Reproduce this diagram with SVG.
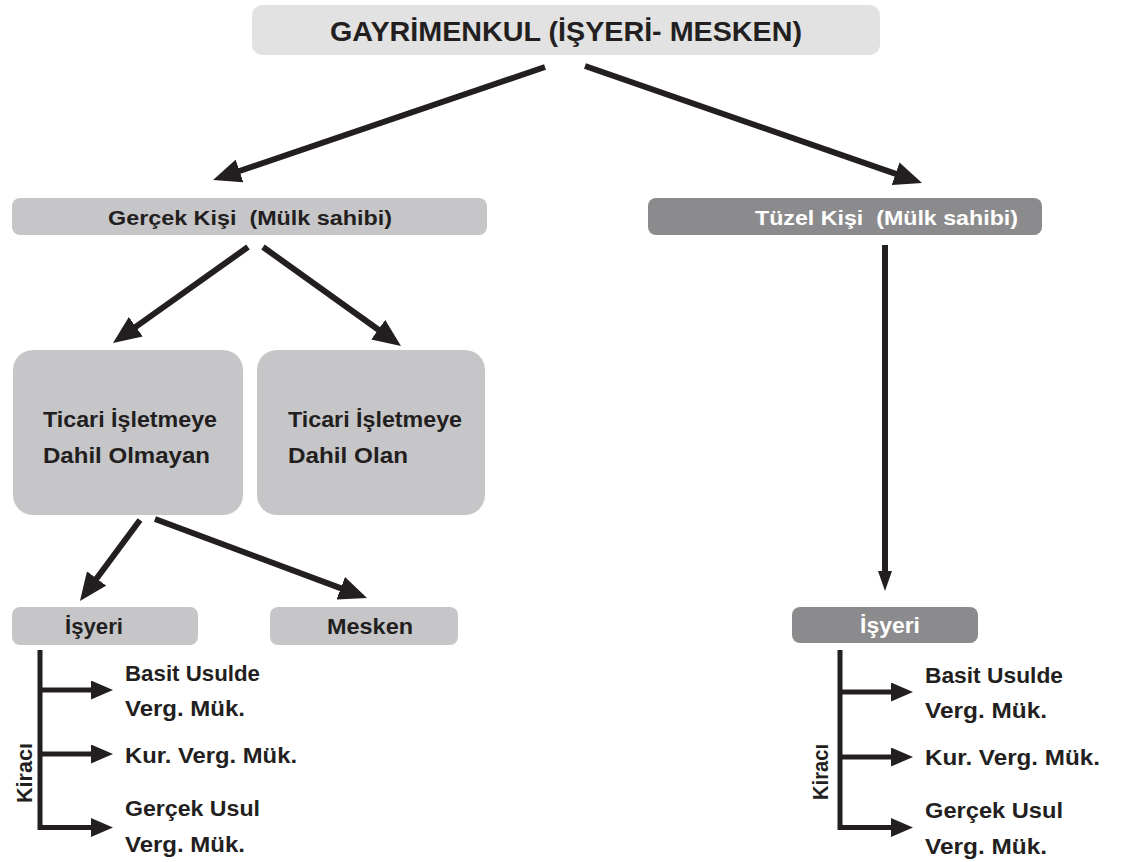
<svg xmlns="http://www.w3.org/2000/svg" width="1123" height="862" viewBox="0 0 1123 862">
  <style>
    text { font-family: "Liberation Sans", Arial, sans-serif; font-weight: bold; fill: #231f20; }
    .t28 { font-size: 28px; }
    .t22 { font-size: 22px; }
    .t21 { font-size: 21px; }
    .w { fill: #ffffff; }
    .light { fill: #e2e2e3; }
    .mid { fill: #c6c6c9; }
    .dark { fill: #8b8b8d; }
    .conn { stroke: #231f20; stroke-width: 6; fill: none; }
    .thin { stroke: #231f20; stroke-width: 5; fill: none; }
  </style>
  <defs>
    <marker id="ah" viewBox="0 0 28 24" refX="14" refY="12" markerWidth="28" markerHeight="24" markerUnits="userSpaceOnUse" orient="auto">
      <path d="M0,0 L28,12 L0,24 z" fill="#231f20"/>
    </marker>
    <marker id="ahs" viewBox="0 0 20 14" refX="6" refY="7" markerWidth="20" markerHeight="14" markerUnits="userSpaceOnUse" orient="auto">
      <path d="M0,0 L20,7 L0,14 z" fill="#231f20"/>
    </marker>
    <marker id="ahh" viewBox="0 0 22 19" refX="8" refY="9.5" markerWidth="22" markerHeight="19" markerUnits="userSpaceOnUse" orient="auto">
      <path d="M0,0 L22,9.5 L0,19 z" fill="#231f20"/>
    </marker>
  </defs>
  <rect width="1123" height="862" fill="#ffffff"/>

  <g id="connectors">
    <line class="conn" x1="545" y1="67" x2="226.3" y2="175.5" marker-end="url(#ah)"/>
    <line class="conn" x1="585" y1="66" x2="908.8" y2="178.4" marker-end="url(#ah)"/>
    <line class="conn" x1="248" y1="247" x2="124.4" y2="334.9" marker-end="url(#ah)"/>
    <line class="conn" x1="263" y1="247" x2="389.6" y2="337.8" marker-end="url(#ah)"/>
    <line class="conn" x1="140" y1="520" x2="88.3" y2="589.7" marker-end="url(#ah)"/>
    <line class="conn" x1="155" y1="519" x2="353.9" y2="593.1" marker-end="url(#ah)"/>
    <line class="conn" x1="885" y1="245" x2="885" y2="577" marker-end="url(#ahs)"/>
    <!-- left Kiracı bracket -->
    <line class="thin" x1="40" y1="650" x2="40" y2="830"/>
    <line class="thin" x1="38" y1="690" x2="99" y2="690" marker-end="url(#ahh)"/>
    <line class="thin" x1="38" y1="754" x2="99" y2="754" marker-end="url(#ahh)"/>
    <line class="thin" x1="38" y1="827.5" x2="99" y2="827.5" marker-end="url(#ahh)"/>
    <!-- right Kiracı bracket -->
    <line class="thin" x1="840" y1="650" x2="840" y2="830"/>
    <line class="thin" x1="838" y1="692" x2="899" y2="692" marker-end="url(#ahh)"/>
    <line class="thin" x1="838" y1="757" x2="899" y2="757" marker-end="url(#ahh)"/>
    <line class="thin" x1="838" y1="827.5" x2="899" y2="827.5" marker-end="url(#ahh)"/>
  </g>

  <g id="gayrimenkul">
    <rect class="light" x="252" y="5" width="628" height="50" rx="10"/>
    <text class="t28" x="330" y="41" textLength="472" lengthAdjust="spacingAndGlyphs">GAYRİMENKUL (İŞYERİ- MESKEN)</text>
  </g>

  <g id="gercek-kisi">
    <rect class="mid" x="12" y="198" width="475" height="37" rx="8"/>
    <text class="t21" x="108" y="225" textLength="284" lengthAdjust="spacingAndGlyphs">Gerçek Kişi&#160; (Mülk sahibi)</text>
  </g>

  <g id="tuzel-kisi">
    <rect class="dark" x="648" y="198" width="394" height="37" rx="8"/>
    <text class="t21 w" x="755" y="225" textLength="263" lengthAdjust="spacingAndGlyphs">Tüzel Kişi&#160; (Mülk sahibi)</text>
  </g>

  <g id="ticari-olmayan">
    <rect class="mid" x="13" y="350" width="230" height="165" rx="20"/>
    <text class="t22" x="43" y="427" textLength="174" lengthAdjust="spacingAndGlyphs">Ticari İşletmeye</text>
    <text class="t22" x="43" y="463" textLength="167" lengthAdjust="spacingAndGlyphs">Dahil Olmayan</text>
  </g>

  <g id="ticari-olan">
    <rect class="mid" x="257" y="350" width="228" height="165" rx="20"/>
    <text class="t22" x="288" y="427" textLength="174" lengthAdjust="spacingAndGlyphs">Ticari İşletmeye</text>
    <text class="t22" x="288" y="463" textLength="120" lengthAdjust="spacingAndGlyphs">Dahil Olan</text>
  </g>

  <g id="isyeri-left">
    <rect class="mid" x="12" y="607" width="186" height="38" rx="8"/>
    <text class="t22" x="65" y="634" textLength="58" lengthAdjust="spacingAndGlyphs">İşyeri</text>
  </g>

  <g id="mesken">
    <rect class="mid" x="270" y="607" width="188" height="38" rx="8"/>
    <text class="t22" x="327" y="634" textLength="86" lengthAdjust="spacingAndGlyphs">Mesken</text>
  </g>

  <g id="isyeri-right">
    <rect class="dark" x="792" y="607" width="186" height="36" rx="8"/>
    <text class="t22 w" x="860" y="633" textLength="60" lengthAdjust="spacingAndGlyphs">İşyeri</text>
  </g>

  <g id="kiraci-left">
    <text class="t22" transform="translate(32,773) rotate(-90)" text-anchor="middle" textLength="60" lengthAdjust="spacingAndGlyphs">Kiracı</text>
    <text class="t22" x="125" y="681" textLength="135" lengthAdjust="spacingAndGlyphs">Basit Usulde</text>
    <text class="t22" x="125" y="716" textLength="120" lengthAdjust="spacingAndGlyphs">Verg. Mük.</text>
    <text class="t22" x="125" y="763" textLength="172" lengthAdjust="spacingAndGlyphs">Kur. Verg. Mük.</text>
    <text class="t22" x="125" y="816" textLength="135" lengthAdjust="spacingAndGlyphs">Gerçek Usul</text>
    <text class="t22" x="125" y="852" textLength="120" lengthAdjust="spacingAndGlyphs">Verg. Mük.</text>
  </g>

  <g id="kiraci-right">
    <text class="t22" transform="translate(828,772) rotate(-90)" text-anchor="middle" textLength="56" lengthAdjust="spacingAndGlyphs">Kiracı</text>
    <text class="t22" x="925" y="683" textLength="138" lengthAdjust="spacingAndGlyphs">Basit Usulde</text>
    <text class="t22" x="925" y="718" textLength="122" lengthAdjust="spacingAndGlyphs">Verg. Mük.</text>
    <text class="t22" x="925" y="765" textLength="175" lengthAdjust="spacingAndGlyphs">Kur. Verg. Mük.</text>
    <text class="t22" x="925" y="818" textLength="138" lengthAdjust="spacingAndGlyphs">Gerçek Usul</text>
    <text class="t22" x="925" y="854" textLength="122" lengthAdjust="spacingAndGlyphs">Verg. Mük.</text>
  </g>
</svg>
